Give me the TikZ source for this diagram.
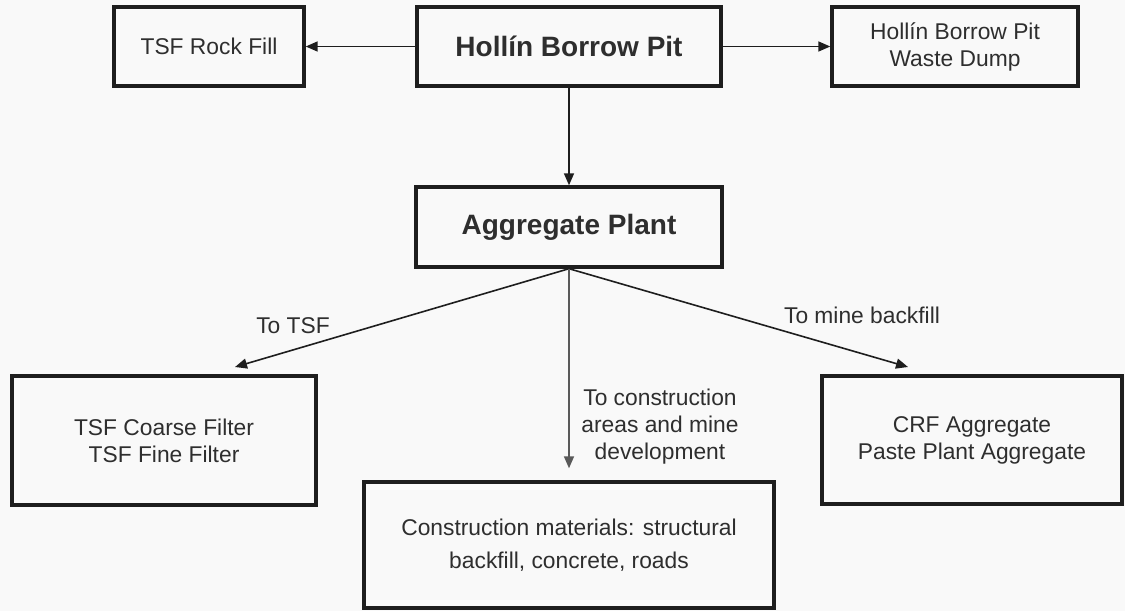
\documentclass[tikz,border=0pt]{standalone}
\usepackage{fontspec}
\setmainfont{Liberation Sans}
\usepackage{xcolor}
\usepackage{tikz}
\usetikzlibrary{arrows.meta,positioning,calc}
\definecolor{BoxLine}{HTML}{1E1E1E}
\definecolor{InkGray}{HTML}{2E2E2E}
\definecolor{ConGray}{HTML}{5A5A5A}
\definecolor{PaperWhite}{HTML}{F9F9F9}

\begin{document}
\begin{tikzpicture}[x=0.5pt,y=-0.5pt,
  box/.style={draw=BoxLine,line width=1.7pt,text=InkGray,align=center,inner sep=0pt,font=\fontsize{11.4}{13.5}\selectfont},
  mainbox/.style={box,font=\bfseries\fontsize{14}{16}\selectfont},
  flow/.style={-{Triangle[length=6pt,width=5pt]},line width=0.8pt,BoxLine},
  lbl/.style={text=InkGray,align=center,font=\fontsize{11.4}{13.5}\selectfont}
]
\fill[PaperWhite] (0,0) rectangle (1125,611);
\useasboundingbox (0,0) rectangle (1125,611);

% top row
\node[box,minimum width=95pt,minimum height=39.5pt] (rockfill) at (209,46.5) {TSF Rock Fill};
\node[mainbox,minimum width=152pt,minimum height=39.5pt] (borrowpit) at (569,46.5) {Hollín Borrow Pit};
\node[box,minimum width=123pt,minimum height=39.5pt] (wastedump) at (955,46.5) {Hollín Borrow Pit\\Waste Dump};

% plant
\node[mainbox,minimum width=153pt,minimum height=40pt] (aggplant) at (569,227) {Aggregate Plant};

% products
\node[box,minimum width=152pt,minimum height=64.5pt] (coarse) at (164,440.5) {TSF Coarse Filter\\TSF Fine Filter};
\node[box,minimum width=205pt,minimum height=63pt,font=\fontsize{11.4}{16.5}\selectfont] (construction) at (569,545) {Construction materials: structural\\backfill, concrete, roads};
\node[box,minimum width=150pt,minimum height=64pt] (crf) at (972,440) {CRF Aggregate\\Paste Plant Aggregate};

\coordinate (tsfin) at (235,367);
\coordinate (crfin) at (908,367);

\draw[flow] (borrowpit) -- (rockfill);
\draw[flow] (borrowpit) -- (wastedump);
\draw[flow] (borrowpit) -- (aggplant);
\draw[flow] (aggplant.south) -- (tsfin);
\draw[flow] (aggplant.south) -- (crfin);
\draw[flow,ConGray] (aggplant.south) -- ([yshift=6pt]construction.north);

% labels
\node[lbl] (totsf) at (293,326) {To TSF};
\node[lbl] (tobackfill) at (862,315) {To mine backfill};
\node[lbl] (tocons) at (660,427) {To construction\\areas and mine\\development};
\end{tikzpicture}
\end{document}
